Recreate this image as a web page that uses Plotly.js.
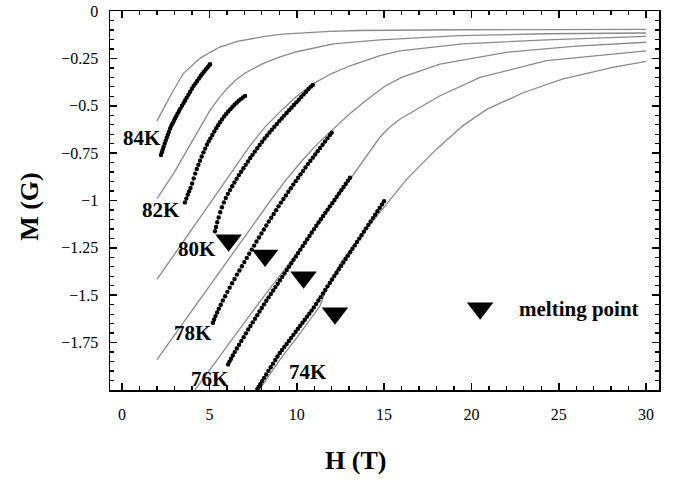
<!DOCTYPE html>
<html>
<head>
<meta charset="utf-8">
<script src="https://cdn.plot.ly/plotly-3.0.1.min.js"></script>
<style>html,body{margin:0;padding:0;background:#fff;}#chart{width:677px;height:481px;}</style>
</head>
<body>
<div id="chart"></div>
<script>
// ---- Model curves (gray lines): field H (T) and magnetisation M (G) ----
const fitH84 = [2, 2.75, 3.5, 4.46, 5.04, 5.6, 6.6, 7.33, 8.2, 9.2, 10.5, 11.9, 13.5, 15.9, 19.3, 24, 30];
const fitM84 = [-0.58, -0.45, -0.33, -0.25, -0.218, -0.19, -0.16, -0.148, -0.134, -0.122, -0.113, -0.107, -0.103, -0.100, -0.099, -0.098, -0.097];

const fitH82 = [2, 2.5, 3, 3.5, 4, 4.5, 5, 5.5, 6, 6.5, 7, 8, 9, 10, 12.1, 14.77, 19.3, 24.3, 30];
const fitM82 = [-0.99, -0.92, -0.85, -0.77, -0.69, -0.61, -0.53, -0.465, -0.41, -0.365, -0.33, -0.28, -0.243, -0.215, -0.174, -0.152, -0.13, -0.12, -0.116];

const fitH80 = [2, 3, 4, 5, 6, 7.33, 8.2, 9.2, 10, 10.9, 12, 13.05, 14.77, 15.9, 19.5, 24.3, 30];
const fitM80 = [-1.416, -1.284, -1.152, -1.02, -0.887, -0.711, -0.61, -0.518, -0.45, -0.386, -0.33, -0.289, -0.236, -0.21, -0.174, -0.152, -0.134];

const fitH78 = [2, 3, 4, 5, 6, 7, 7.7, 8.5, 9.4, 10.3, 11.2, 12.1, 13, 14, 15, 16, 18.2, 22, 26, 30];
const fitM78 = [-1.84, -1.71, -1.58, -1.45, -1.32, -1.19, -1.10, -1.00, -0.89, -0.79, -0.70, -0.62, -0.545, -0.47, -0.40, -0.35, -0.28, -0.218, -0.185, -0.165];

const fitH76 = [4.1, 5, 6, 7, 8, 9, 9.6, 10.5, 11.5, 12.5, 13.5, 14.2, 14.77, 15.3, 15.9, 18.2, 20.5, 24.3, 30];
const fitM76 = [-2.01, -1.895, -1.77, -1.645, -1.52, -1.40, -1.33, -1.22, -1.09, -0.96, -0.83, -0.735, -0.665, -0.615, -0.571, -0.447, -0.35, -0.262, -0.21];

const fitH74 = [7.7, 9.04, 10.2, 11.0, 11.33, 11.6, 12.5, 14.0, 16.3, 18.0, 19.5, 20.9, 23.0, 25.2, 28.1, 30];
const fitM74 = [-2.02, -1.84, -1.70, -1.60, -1.557, -1.49, -1.33, -1.15, -0.887, -0.729, -0.606, -0.518, -0.43, -0.359, -0.297, -0.266];

// ---- Measured data (black dots) ----
const datH84 = [2.23,2.28,2.33,2.38,2.44,2.50,2.56,2.62,2.68,2.75,2.82,2.89,2.96,3.03,3.10,3.18,3.26,3.34,3.43,3.52,3.61,3.70,3.80,3.90,4.00,4.10,4.20,4.30,4.40,4.50,4.60,4.70,4.80,4.90,5.00,5.04];
const datM84 = [-0.760,-0.745,-0.731,-0.717,-0.700,-0.684,-0.668,-0.653,-0.638,-0.620,-0.606,-0.593,-0.580,-0.567,-0.555,-0.541,-0.528,-0.515,-0.500,-0.486,-0.472,-0.458,-0.442,-0.426,-0.410,-0.395,-0.382,-0.369,-0.356,-0.343,-0.331,-0.319,-0.308,-0.297,-0.286,-0.281];

const datH82 = [3.60,3.68,3.76,3.84,3.92,4.01,4.10,4.19,4.28,4.37,4.46,4.56,4.66,4.76,4.86,4.96,5.06,5.17,5.28,5.39,5.50,5.61,5.72,5.84,5.96,6.08,6.20,6.32,6.44,6.56,6.68,6.80,6.92,7.04];
const datM82 = [-1.010,-0.990,-0.970,-0.952,-0.934,-0.910,-0.884,-0.858,-0.834,-0.812,-0.790,-0.768,-0.746,-0.726,-0.706,-0.688,-0.672,-0.654,-0.636,-0.619,-0.603,-0.587,-0.572,-0.557,-0.543,-0.530,-0.518,-0.506,-0.495,-0.484,-0.474,-0.465,-0.456,-0.448];

const datH80 = [5.32,5.38,5.45,5.53,5.62,5.72,5.83,5.94,6.06,6.18,6.30,6.43,6.56,6.69,6.82,6.95,7.08,7.21,7.34,7.47,7.60,7.74,7.88,8.02,8.16,8.30,8.44,8.58,8.72,8.86,9.00,9.14,9.28,9.42,9.56,9.70,9.84,9.98,10.12,10.26,10.40,10.54,10.68,10.82,10.92];
const datM80 = [-1.162,-1.140,-1.115,-1.090,-1.062,-1.036,-1.010,-0.987,-0.965,-0.945,-0.925,-0.905,-0.885,-0.866,-0.848,-0.830,-0.812,-0.794,-0.776,-0.759,-0.742,-0.724,-0.707,-0.690,-0.673,-0.657,-0.641,-0.626,-0.611,-0.596,-0.581,-0.567,-0.552,-0.538,-0.524,-0.510,-0.496,-0.482,-0.468,-0.454,-0.440,-0.426,-0.412,-0.399,-0.390];

const datH78 = [5.20,5.27,5.35,5.44,5.54,5.65,5.77,5.90,6.03,6.16,6.30,6.44,6.58,6.72,6.86,7.00,7.14,7.28,7.42,7.56,7.70,7.84,7.98,8.12,8.26,8.40,8.54,8.68,8.82,8.96,9.10,9.24,9.38,9.52,9.66,9.80,9.94,10.08,10.22,10.36,10.50,10.64,10.78,10.92,11.06,11.20,11.34,11.48,11.62,11.76,11.90,12.00];
const datM78 = [-1.645,-1.628,-1.610,-1.591,-1.571,-1.550,-1.528,-1.505,-1.482,-1.460,-1.437,-1.414,-1.391,-1.369,-1.347,-1.325,-1.303,-1.281,-1.259,-1.238,-1.216,-1.195,-1.174,-1.153,-1.132,-1.111,-1.091,-1.071,-1.051,-1.031,-1.011,-0.992,-0.973,-0.954,-0.935,-0.916,-0.898,-0.880,-0.862,-0.844,-0.826,-0.808,-0.791,-0.774,-0.757,-0.740,-0.723,-0.706,-0.689,-0.672,-0.655,-0.642];

const datH76 = [6.07,6.15,6.24,6.34,6.45,6.57,6.70,6.83,6.96,7.09,7.22,7.35,7.48,7.61,7.74,7.87,8.00,8.13,8.26,8.39,8.52,8.65,8.78,8.91,9.04,9.17,9.30,9.43,9.56,9.69,9.82,9.95,10.08,10.21,10.34,10.47,10.60,10.73,10.86,10.99,11.12,11.25,11.38,11.51,11.64,11.77,11.90,12.03,12.16,12.29,12.42,12.55,12.68,12.81,12.94,13.05];
const datM76 = [-1.865,-1.850,-1.835,-1.818,-1.800,-1.781,-1.761,-1.741,-1.721,-1.701,-1.681,-1.662,-1.643,-1.624,-1.605,-1.586,-1.567,-1.548,-1.529,-1.511,-1.493,-1.475,-1.457,-1.439,-1.421,-1.403,-1.385,-1.367,-1.349,-1.331,-1.313,-1.295,-1.277,-1.259,-1.241,-1.223,-1.205,-1.187,-1.169,-1.151,-1.133,-1.116,-1.099,-1.082,-1.065,-1.048,-1.031,-1.014,-0.997,-0.980,-0.963,-0.946,-0.929,-0.912,-0.895,-0.880];

const datH74 = [7.75,7.83,7.92,8.02,8.13,8.25,8.38,8.51,8.64,8.77,8.90,9.03,9.16,9.29,9.42,9.55,9.68,9.81,9.94,10.07,10.20,10.33,10.46,10.59,10.72,10.85,10.98,11.11,11.24,11.37,11.50,11.63,11.76,11.89,12.02,12.15,12.28,12.41,12.54,12.67,12.80,12.93,13.06,13.19,13.32,13.45,13.58,13.71,13.84,13.97,14.10,14.23,14.36,14.49,14.62,14.75,14.88,15.00];
const datM74 = [-1.995,-1.982,-1.968,-1.953,-1.936,-1.918,-1.899,-1.880,-1.861,-1.842,-1.823,-1.805,-1.789,-1.773,-1.757,-1.741,-1.725,-1.709,-1.693,-1.677,-1.661,-1.645,-1.629,-1.613,-1.597,-1.581,-1.564,-1.546,-1.528,-1.510,-1.491,-1.472,-1.453,-1.435,-1.417,-1.399,-1.381,-1.363,-1.345,-1.327,-1.309,-1.291,-1.273,-1.255,-1.237,-1.219,-1.201,-1.183,-1.165,-1.147,-1.129,-1.111,-1.093,-1.075,-1.057,-1.039,-1.021,-1.004];

// ---- Melting points (triangles) ----
const meltH = [6.10, 8.19, 10.39, 12.19];
const meltM = [-1.21, -1.29, -1.405, -1.595];

// ---- Temperature labels ----
const tempLabels = ['84K', '82K', '80K', '78K', '76K', '74K'];
const tempLabelH = [1.14, 2.23, 4.29, 4.06, 5.04, 10.65];
const tempLabelM = [-0.67, -1.05, -1.257, -1.70, -1.944, -1.907];

// ---- Axis ticks ----
const xTickVals = [0, 5, 10, 15, 20, 25, 30];
const xTickText = ['0', '5', '10', '15', '20', '25', '30'];
const yTickVals = [0, -0.25, -0.5, -0.75, -1, -1.25, -1.5, -1.75];
const yTickText = ['0', '\u22120.25', '\u22120.5', '\u22120.75', '\u22121', '\u22121.25', '\u22121.5', '\u22121.75'];
const xMinorStep = 1;
const yMinorStep = 0.05;

// legend key
const legendLabel = 'melting point';
const legendKeyH = [20.5];
const legendKeyM = [-1.569];
const legendTextH = 22.62;
const legendTextM = -1.575;

const SERIF = 'Liberation Serif';
const X_RANGE = [-0.69, 30.74];
const Y_RANGE = [-2, 0];

const fits = [[fitH84, fitM84], [fitH82, fitM82], [fitH80, fitM80], [fitH78, fitM78], [fitH76, fitM76], [fitH74, fitM74]];
const dats = [[datH84, datM84], [datH82, datM82], [datH80, datM80], [datH78, datM78], [datH76, datM76], [datH74, datM74]];

const traces = [];
fits.forEach((f, i) => traces.push({
  x: f[0], y: f[1], mode: 'lines', type: 'scatter', name: 'fit ' + tempLabels[i],
  line: {color: '#8a8a8a', width: 1.3}, showlegend: false, hoverinfo: 'skip'
}));
dats.forEach((d, i) => traces.push({
  x: d[0], y: d[1], mode: 'markers', type: 'scatter', name: tempLabels[i],
  marker: {color: '#000', size: 4.4}, showlegend: false
}));
traces.push({
  x: meltH, y: meltM, mode: 'markers', type: 'scatter', name: legendLabel,
  marker: {symbol: 'triangle-down', color: '#000', size: 23}, showlegend: false
});
traces.push({
  x: legendKeyH, y: legendKeyM, mode: 'markers', type: 'scatter', name: legendLabel + ' (key)',
  marker: {symbol: 'triangle-down', color: '#000', size: 23}, showlegend: false, hoverinfo: 'skip'
});

const annotations = tempLabels.map((t, i) => ({
  x: tempLabelH[i], y: tempLabelM[i], xref: 'x', yref: 'y', text: '<b>' + t + '</b>',
  showarrow: false, xanchor: 'center', yanchor: 'middle',
  font: {family: SERIF, size: 21, color: '#000'}
}));
annotations.push({
  x: legendTextH, y: legendTextM, xref: 'x', yref: 'y', text: '<b>' + legendLabel + '</b>', showarrow: false,
  xanchor: 'left', yanchor: 'middle', font: {family: SERIF, size: 21, color: '#000'}
});
annotations.push({
  x: 0.448, y: -0.187, xref: 'paper', yref: 'paper', text: '<b>H (T)</b>', showarrow: false,
  xanchor: 'center', yanchor: 'middle', font: {family: SERIF, size: 26, color: '#000'}
});
annotations.push({
  x: -0.146, y: 0.4855, xref: 'paper', yref: 'paper', text: '<b>M (G)</b>', showarrow: false,
  textangle: -90, xanchor: 'center', yanchor: 'middle', font: {family: SERIF, size: 26, color: '#000'}
});

const axisCommon = {
  showgrid: false, zeroline: false, fixedrange: true,
  showline: true, linecolor: '#000', linewidth: 1.5, mirror: 'ticks',
  ticks: 'inside', ticklen: 7, tickwidth: 1.6, tickcolor: '#000',
  tickfont: {family: SERIF, size: 16, color: '#000'}
};

const layout = {
  width: 677, height: 481,
  margin: {l: 110, r: 18, t: 11, b: 91, pad: 0},
  paper_bgcolor: '#fff', plot_bgcolor: '#fff',
  showlegend: false,
  xaxis: Object.assign({}, axisCommon, {
    range: X_RANGE, tickmode: 'array', tickvals: xTickVals, ticktext: xTickText,
    ticklabelstandoff: 9,
    minor: {ticks: 'inside', ticklen: 4, tickmode: 'linear', tick0: 0, dtick: xMinorStep, tickcolor: '#000', tickwidth: 1.3}
  }),
  yaxis: Object.assign({}, axisCommon, {
    range: Y_RANGE, tickmode: 'array', tickvals: yTickVals, ticktext: yTickText,
    ticklabelstandoff: 7,
    minor: {ticks: 'inside', ticklen: 4, tickmode: 'linear', tick0: 0, dtick: yMinorStep, tickcolor: '#000', tickwidth: 1.3}
  }),
  annotations: annotations
};

Plotly.newPlot('chart', traces, layout, {displayModeBar: false, staticPlot: true});
</script>
</body>
</html>
